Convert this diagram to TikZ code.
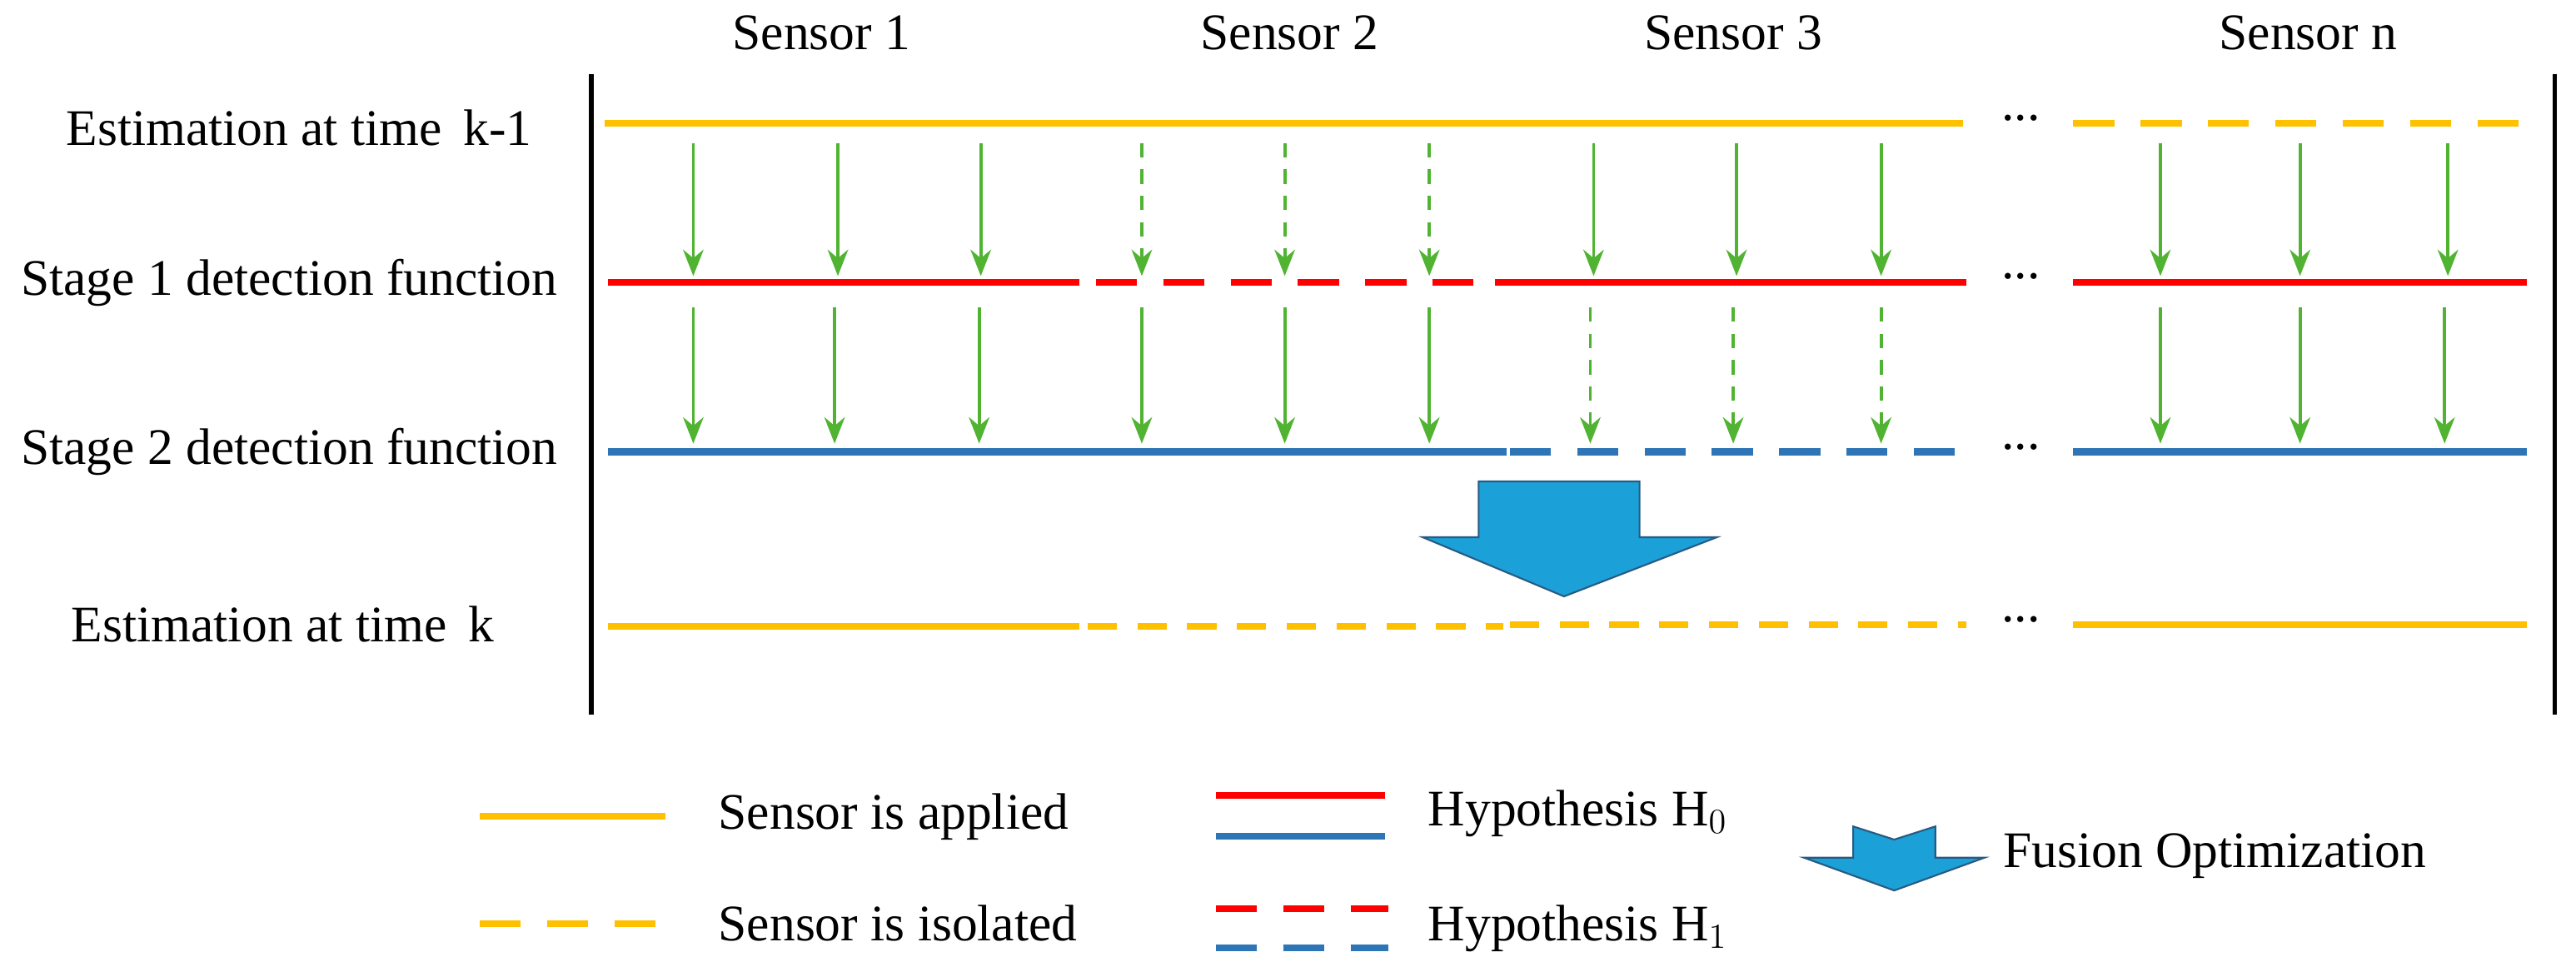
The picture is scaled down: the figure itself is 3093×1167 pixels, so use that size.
\documentclass[tikz,border=0pt]{standalone}
\usepackage{fontspec}
\setmainfont{Liberation Serif}
\usetikzlibrary{arrows.meta}
\definecolor{yel}{RGB}{255,192,0}
\definecolor{rd}{RGB}{255,0,0}
\definecolor{bl}{RGB}{46,117,182}
\definecolor{gr}{RGB}{80,180,50}
\definecolor{ba}{RGB}{27,160,215}
\definecolor{bad}{RGB}{40,90,130}
\begin{document}
\begin{tikzpicture}[x=0.01cm,y=-0.01cm,
 lab/.style={font=\fontsize{17.5pt}{21pt}\selectfont,inner sep=0},
 ln/.style={line width=2.3pt},
 dsh/.style={ln,dash pattern=on 14pt off 9pt},
 dsh2/.style={ln,dash pattern=on 10pt off 7pt},
 ga/.style={gr,line width=1.1pt,-{Stealth[length=9pt,width=7pt]}},
 gd/.style={ga,dash pattern=on 5pt off 4pt},
 blk/.style={fill=ba,draw=bad,line width=0.6pt}]
\useasboundingbox (0,0) rectangle (3093,1167);
\begin{scope}[scale=1.9726]
\draw[line width=1.6pt] (360,45) coordinate (v1) -- (360,435) coordinate (v2);
\draw[line width=1.6pt] (1555,45) coordinate (v3) -- (1555,435) coordinate (v4);
\node[lab] (s1) at (500,20) {Sensor 1};
\node[lab] (s2) at (785,20) {Sensor 2};
\node[lab] (s3) at (1055,20) {Sensor 3};
\node[lab] (sn) at (1405,20) {Sensor n};
\node[lab] (r1) at (182,78) {Estimation at time\, k-1};
\node[lab] (r2) at (176,172) {Stage 1 detection function};
\node[lab] (r3) at (176,275) {Stage 2 detection function};
\node[lab] (r4) at (172,380) {Estimation at time\, k};
\foreach \y/\n in {72/1,168/2,272/3,377/4}{\node[lab] (d\n) at (1230,\y) {...};}
% row 1
\draw[ln,yel] (368,75) -- (1195,75);
\draw[dsh,yel] (1262,75) -- (1545,75);
% row 2
\draw[ln,rd] (370,172) -- (657,172);
\draw[dsh,rd] (667,172) -- (905,172);
\draw[ln,rd] (910,172) -- (1197,172);
\draw[ln,rd] (1262,172) -- (1538,172);
% row 3
\draw[ln,bl] (370,275) -- (917,275);
\draw[dsh,bl] (919,275) -- (1197,275);
\draw[ln,bl] (1262,275) -- (1538,275);
% row 4
\draw[ln,yel] (370,381) -- (657,381);
\draw[dsh2,yel] (662,381) -- (915,381);
\draw[dsh2,yel] (919,380) -- (1197,380);
\draw[ln,yel] (1262,380) -- (1538,380);
% green arrows
\foreach \x in {422,510,597,970,1057,1145,1315,1400,1490}{\draw[ga] (\x,87) -- (\x,168);}
\foreach \x in {695,782,870}{\draw[gd] (\x,87) -- (\x,168);}
\foreach \x in {422,508,596,695,782,870,1315,1400,1488}{\draw[ga] (\x,187) -- (\x,270);}
\foreach \x in {968,1055,1145}{\draw[gd] (\x,187) -- (\x,270);}
% big arrow
\draw[blk] (900,293) -- (998,293) -- (998,327) -- (1045,327) -- (952,363) -- (866,327) -- (900,327) -- cycle;
% legend
\draw[ln,yel] (292,497) -- (405,497);
\node[lab,anchor=west] (l1) at (437,497) {Sensor is applied};
\draw[dsh,yel] (292,562) -- (405,562);
\node[lab,anchor=west] (l2) at (437,562) {Sensor is isolated};
\draw[ln,rd] (740,484) -- (843,484);
\draw[ln,bl] (740,509) -- (843,509);
\node[lab,anchor=west] (l3) at (869,495) {Hypothesis H$_0$};
\draw[dsh,rd] (740,553) -- (845,553);
\draw[dsh,bl] (740,577) -- (845,577);
\node[lab,anchor=west] (l4) at (869,565) {Hypothesis H$_1$};
\draw[blk] (1128,503) -- (1153,511) -- (1178,503) -- (1178,522) -- (1208,522) -- (1153,542) -- (1098,522) -- (1128,522) -- cycle;
\node[lab,anchor=west] (l5) at (1219,521) {Fusion Optimization};
\end{scope}
\end{tikzpicture}
\end{document}
